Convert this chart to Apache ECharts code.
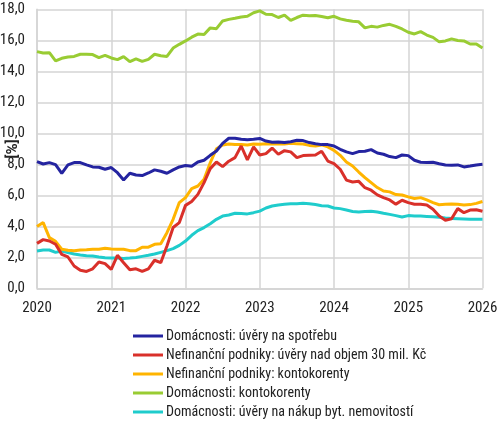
<!DOCTYPE html>
<html>
<head>
<meta charset="utf-8">
<script src="https://cdn.jsdelivr.net/npm/echarts@6/dist/echarts.min.js"></script>
<style>
  html, body { margin: 0; padding: 0; background: #fff; }
  #chart { width: 500px; height: 423px; }
</style>
</head>
<body>
<div id="chart"></div>
<script>
// měsíční řady od 2020-01 do 2026-01
const startYear = 2020;
const yearTicks = [2020, 2021, 2022, 2023, 2024, 2025, 2026];
const yUnit = '[%]';

const seriesNames = [
  'Domácnosti: úvěry na spotřebu',
  'Nefinanční podniky: úvěry nad objem 30 mil. Kč',
  'Nefinanční podniky: kontokorenty',
  'Domácnosti: kontokorenty',
  'Domácnosti: úvěry na nákup byt. nemovitostí'
];

const spotrebaHH = [
  8.17, 8.02, 8.11, 7.98, 7.42, 7.96, 8.11, 8.11, 7.96, 7.83, 7.81, 7.68,
  7.79, 7.46, 6.99, 7.42, 7.31, 7.27, 7.44, 7.64, 7.55, 7.42, 7.64, 7.83,
  7.92, 7.87, 8.15, 8.26, 8.58, 8.86, 9.35, 9.68, 9.68, 9.61, 9.59, 9.61,
  9.67, 9.50, 9.42, 9.44, 9.40, 9.46, 9.55, 9.53, 9.40, 9.33, 9.27, 9.27,
  9.18, 8.97, 8.80, 8.69, 8.82, 8.84, 8.95, 8.73, 8.65, 8.50, 8.43, 8.60,
  8.56, 8.26, 8.13, 8.11, 8.13, 8.04, 7.96, 7.94, 7.96, 7.83, 7.89, 7.96,
  8.00
];

const uveryNFP = [
  2.90, 3.14, 3.05, 2.84, 2.19, 2.02, 1.44, 1.16, 1.09, 1.26, 1.70, 1.59,
  1.22, 2.13, 1.65, 1.20, 1.26, 1.09, 1.26, 1.81, 1.65, 2.73, 3.92, 4.24,
  5.35, 5.60, 6.06, 6.82, 7.72, 8.15, 7.85, 8.20, 8.43, 9.18, 8.28, 9.12,
  8.60, 8.69, 9.05, 8.65, 8.88, 8.80, 8.43, 8.56, 8.58, 8.60, 8.84, 8.21,
  8.04, 7.68, 6.98, 6.86, 6.90, 6.49, 6.33, 6.03, 5.85, 5.70, 5.43, 5.68,
  5.53, 5.42, 5.42, 5.38, 5.10, 4.66, 4.39, 4.49, 5.14, 4.88, 5.05, 5.07,
  4.97
];

const kontoNFP = [
  3.98, 4.24, 3.27, 3.03, 2.52, 2.45, 2.43, 2.47, 2.49, 2.52, 2.52, 2.58,
  2.54, 2.52, 2.52, 2.43, 2.43, 2.65, 2.65, 2.84, 2.88, 3.59, 4.45, 5.53,
  5.85, 6.43, 6.60, 7.03, 8.10, 9.00, 9.25, 9.31, 9.27, 9.27, 9.25, 9.31,
  9.29, 9.33, 9.31, 9.31, 9.31, 9.35, 9.33, 9.31, 9.22, 9.18, 9.25, 9.12,
  8.90, 8.58, 8.15, 7.89, 7.50, 7.14, 6.82, 6.50, 6.28, 6.22, 6.05, 6.02,
  5.90, 5.79, 5.85, 5.70, 5.53, 5.39, 5.42, 5.44, 5.42, 5.38, 5.40, 5.48,
  5.60
];

const kontoHH = [
  15.27, 15.18, 15.20, 14.67, 14.84, 14.92, 14.96, 15.10, 15.10, 15.08, 14.88, 15.03,
  14.86, 14.75, 14.95, 14.62, 14.80, 14.64, 14.77, 15.10, 15.00, 14.96, 15.50, 15.74,
  15.96, 16.20, 16.40, 16.38, 16.80, 16.75, 17.25, 17.35, 17.42, 17.50, 17.55, 17.78,
  17.90, 17.68, 17.66, 17.47, 17.63, 17.29, 17.47, 17.62, 17.58, 17.60, 17.53, 17.45,
  17.55, 17.38, 17.29, 17.23, 17.19, 16.80, 16.90, 16.85, 16.96, 17.03, 16.90, 16.73,
  16.52, 16.41, 16.56, 16.34, 16.19, 15.90, 15.96, 16.09, 15.99, 15.96, 15.76, 15.76,
  15.50
];

const bydleniHH = [
  2.41, 2.47, 2.47, 2.32, 2.41, 2.30, 2.21, 2.15, 2.10, 2.08, 2.02, 1.97,
  1.95, 1.95, 1.93, 1.95, 1.99, 2.06, 2.13, 2.21, 2.32, 2.43, 2.56, 2.77,
  3.05, 3.42, 3.72, 3.92, 4.17, 4.45, 4.66, 4.73, 4.84, 4.82, 4.80, 4.88,
  4.98, 5.18, 5.31, 5.38, 5.42, 5.46, 5.46, 5.48, 5.46, 5.40, 5.33, 5.31,
  5.18, 5.14, 5.05, 4.95, 4.92, 4.95, 4.97, 4.92, 4.84, 4.77, 4.69, 4.60,
  4.69, 4.66, 4.66, 4.64, 4.62, 4.58, 4.53, 4.51, 4.49, 4.47, 4.45, 4.45,
  4.45
];

const colors = ['#2424a0', '#d9302a', '#ffb400', '#99cc33', '#1fcccc'];
const allValues = [spotrebaHH, uveryNFP, kontoNFP, kontoHH, bydleniHH];

const fontFamily = "'Roboto Condensed', 'Liberation Sans Narrow', 'Arial Narrow', Roboto, sans-serif";

function toPoints(values) {
  return values.map((v, i) => [startYear + i / 12, v]);
}

const chart = echarts.init(document.getElementById('chart'));

const option = {
  animation: false,
  textStyle: { fontFamily: fontFamily },
  grid: {
    left: 37, right: 17.5, top: 9.3, bottom: 134.7,
    containLabel: false,
    outerBoundsMode: 'none'
  },
  // popisek osy y (otočený)
  graphic: [{
    type: 'text',
    x: 13,
    y: 149,
    rotation: Math.PI / 2,
    style: {
      text: yUnit,
      fill: '#222',
      font: "bold 15px 'Liberation Sans Narrow', 'Arial Narrow', Roboto, sans-serif",
      align: 'center',
      verticalAlign: 'middle'
    }
  }],
  xAxis: {
    type: 'value',
    min: yearTicks[0],
    max: yearTicks[yearTicks.length - 1],
    interval: 1,
    axisLine: { show: true, lineStyle: { color: '#d4d4d4', width: 1.5 } },
    axisTick: { show: false },
    axisLabel: {
      color: '#222',
      fontSize: 15,
      margin: 12,
      formatter: v => String(Math.round(v))
    },
    splitLine: { show: true, lineStyle: { color: '#d4d4d4', width: 1.5 } }
  },
  yAxis: {
    type: 'value',
    min: 0,
    max: 18,
    interval: 2,
    axisLine: { show: true, lineStyle: { color: '#d4d4d4', width: 1.5 } },
    axisTick: { show: false },
    axisLabel: {
      color: '#222',
      fontSize: 15,
      margin: 12,
      formatter: v => v.toFixed(1).replace('.', ',')
    },
    splitLine: { show: true, lineStyle: { color: '#d4d4d4', width: 1.5 } }
  },
  legend: {
    orient: 'vertical',
    left: 128,
    top: 324,
    height: 110,
    icon: 'rect',
    itemWidth: 30,
    itemHeight: 3,
    itemGap: 5,
    textStyle: { color: '#222', fontSize: 14, padding: [0, 0, 0, -2] },
    data: seriesNames
  },
  series: seriesNames.map((name, idx) => ({
    name: name,
    type: 'line',
    data: toPoints(allValues[idx]),
    showSymbol: false,
    symbol: 'none',
    color: colors[idx],
    lineStyle: { width: 3, color: colors[idx] },
    z: 10 - idx
  }))
};

chart.setOption(option);
</script>
</body>
</html>
